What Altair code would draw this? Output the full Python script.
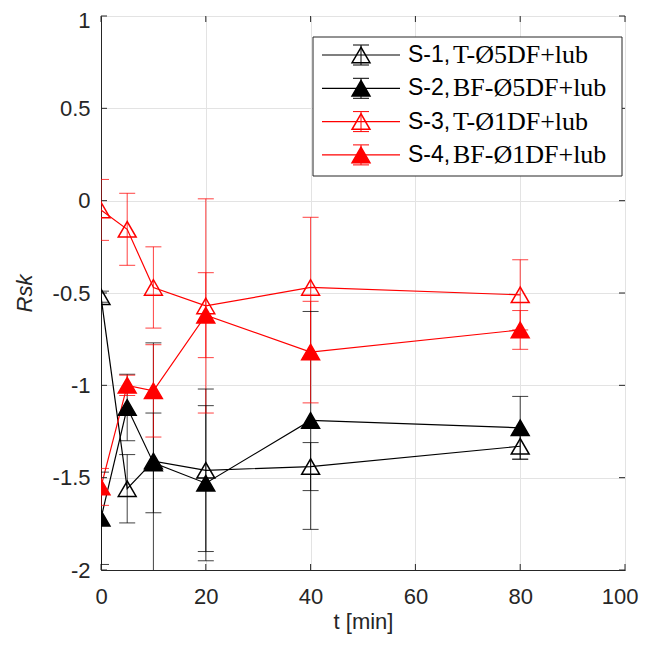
import altair as alt
import pandas as pd

# ---------------- data ----------------
t = [0, 5, 10, 20, 40, 80]
series = ["S-1", "S-2", "S-3", "S-4"]
labels_a = ["S-1,", "S-2,", "S-3,", "S-4,"]
labels_b = ["T-Ø5DF+lub", "BF-Ø5DF+lub", "T-Ø1DF+lub", "BF-Ø1DF+lub"]

s1_mean = [-0.52, -1.56, -1.41, -1.46, -1.44, -1.33]
s1_err = [0.03, 0.185, 0.64, 0.44, 0.13, 0.07]
s2_mean = [-1.72, -1.12, -1.42, -1.53, -1.19, -1.23]
s2_err = [0.25, 0.18, 0.27, 0.42, 0.59, 0.17]
s3_mean = [-0.05, -0.155, -0.47, -0.57, -0.47, -0.51]
s3_err = [0.165, 0.195, 0.22, 0.58, 0.38, 0.19]
s4_mean = [-1.55, -1.0, -1.03, -0.62, -0.82, -0.70]
s4_err = [0.10, 0.055, 0.25, 0.23, 0.275, 0.105]

x_ticks = [0, 20, 40, 60, 80, 100]
y_ticks = [-2, -1.5, -1, -0.5, 0, 0.5, 1]

# ---------------- styles ----------------
colors = ["#000000", "#000000", "#ff0000", "#ff0000"]
fills = ["transparent", "#000000", "transparent", "#ff0000"]
W, H = 524, 554
AXC = "#262626"
FONT = "Liberation Sans"
SERIF = "Liberation Serif"

means = [s1_mean, s2_mean, s3_mean, s4_mean]
errs = [s1_err, s2_err, s3_err, s4_err]
rows = []
for name, m, e in zip(series, means, errs):
    for ti, mi, ei in zip(t, m, e):
        rows.append({"series": name, "t": ti, "v": mi, "lo": mi - ei, "hi": mi + ei})
df = pd.DataFrame(rows)

col_scale = alt.Scale(domain=series, range=colors)
fill_scale = alt.Scale(domain=series, range=fills)

xs = alt.Scale(domain=[0, 100], nice=False, zero=False)
ys = alt.Scale(domain=[-2, 1], nice=False, zero=False)

base = alt.Chart(df)

x_enc = alt.X(
    "t:Q", scale=xs,
    axis=alt.Axis(values=x_ticks, title="t [min]", labelFlush=False, labelOverlap=False,
                  labelPadding=16, titlePadding=4, grid=True, ticks=False,
                  labelAlign={"condition": {"test": "datum.value == 100", "value": "right"}, "value": "center"},
                  labelOffset={"condition": {"test": "datum.value == 100", "value": 13}, "value": 0}),
)
y_enc = alt.Y(
    "v:Q", scale=ys,
    axis=alt.Axis(values=y_ticks, title="Rsk", labelFlush=False, labelOverlap=False,
                  labelExpr="datum.value + ''", labelPadding=11, titlePadding=16,
                  titleFontStyle="italic", grid=True, ticks=False,
                  labelOffset={"condition": {"test": "datum.value == 1", "value": 4}, "value": 0}),
)

err_rule = base.mark_rule(clip=True, strokeWidth=1, opacity=0.75).encode(
    x=alt.X("t:Q", scale=xs), y=alt.Y("lo:Q", scale=ys), y2="hi:Q",
    color=alt.Color("series:N", scale=col_scale, legend=None),
)
cap_lo = base.mark_tick(clip=True, orient="horizontal", size=16, thickness=1, opacity=0.75).encode(
    x=alt.X("t:Q", scale=xs), y=alt.Y("lo:Q", scale=ys),
    color=alt.Color("series:N", scale=col_scale, legend=None),
)
cap_hi = base.mark_tick(clip=True, orient="horizontal", size=16, thickness=1, opacity=0.75).encode(
    x=alt.X("t:Q", scale=xs), y=alt.Y("hi:Q", scale=ys),
    color=alt.Color("series:N", scale=col_scale, legend=None),
)
lines = base.mark_line(strokeWidth=1.2, clip=True).encode(
    x=x_enc, y=y_enc,
    color=alt.Color("series:N", scale=col_scale, legend=None),
    detail="series:N",
)
markers = base.mark_point(shape="triangle-up", size=320, strokeWidth=1.5, opacity=1, clip=True).encode(
    x=alt.X("t:Q", scale=xs), y=alt.Y("v:Q", scale=ys),
    stroke=alt.Stroke("series:N", scale=col_scale, legend=None),
    fill=alt.Fill("series:N", scale=fill_scale, legend=None),
)

# inward ticks (MATLAB box style)
TL = 6
xt = alt.Chart(pd.DataFrame({"xv": x_ticks}))
yt = alt.Chart(pd.DataFrame({"yv": y_ticks}))
xtick_b = xt.mark_rule(color=AXC, strokeWidth=1).encode(
    x=alt.X("xv:Q", scale=xs), y=alt.value(H), y2=alt.value(H - TL))
xtick_t = xt.mark_rule(color=AXC, strokeWidth=1).encode(
    x=alt.X("xv:Q", scale=xs), y=alt.value(0), y2=alt.value(TL))
ytick_l = yt.mark_rule(color=AXC, strokeWidth=1).encode(
    y=alt.Y("yv:Q", scale=ys), x=alt.value(0), x2=alt.value(TL))
ytick_r = yt.mark_rule(color=AXC, strokeWidth=1).encode(
    y=alt.Y("yv:Q", scale=ys), x=alt.value(W - TL), x2=alt.value(W))

main = alt.layer(lines, xtick_b, xtick_t, ytick_l, ytick_r,
                 err_rule, cap_lo, cap_hi, markers)

# ---------------- legend (pixel positions) ----------------
LX0, LX1, LY0, LY1 = 212, 521, 21, 160
ROW0, ROWH = 39, 33.3
leg_rows = []
for i, name in enumerate(series):
    y = ROW0 + i * ROWH
    leg_rows.append({
        "a": labels_a[i], "b": labels_b[i], "col": colors[i], "fillc": fills[i],
        "y": y, "yt": y - 10, "yb": y + 10,
        "lx1": 221, "lx2": 299, "mx": 260, "cx1": 252, "cx2": 268,
        "ta": 307, "tb": 352,
    })
ldf = pd.DataFrame(leg_rows)
lb = alt.Chart(ldf)
box = alt.Chart(pd.DataFrame({"k": [0]})).mark_rect(fill="white", stroke=AXC, strokeWidth=1).encode(
    x=alt.value(LX0), x2=alt.value(LX1), y=alt.value(LY0), y2=alt.value(LY1))
PX = lambda f: alt.X(f, scale=None, axis=None)
PY = lambda f: alt.Y(f, scale=None, axis=None)
l_line = lb.mark_rule(strokeWidth=1.2).encode(
    x=PX("lx1:Q"), x2="lx2:Q", y=PY("y:Q"), color=alt.Color("col:N", scale=None))
l_err = lb.mark_rule(strokeWidth=1).encode(
    x=PX("mx:Q"), y=PY("yt:Q"), y2="yb:Q", color=alt.Color("col:N", scale=None))
l_cap1 = lb.mark_rule(strokeWidth=1).encode(
    x=PX("cx1:Q"), x2="cx2:Q", y=PY("yt:Q"), color=alt.Color("col:N", scale=None))
l_cap2 = lb.mark_rule(strokeWidth=1).encode(
    x=PX("cx1:Q"), x2="cx2:Q", y=PY("yb:Q"), color=alt.Color("col:N", scale=None))
l_mk = lb.mark_point(shape="triangle-up", size=320, strokeWidth=1.5, opacity=1).encode(
    x=PX("mx:Q"), y=PY("y:Q"),
    stroke=alt.Stroke("col:N", scale=None), fill=alt.Fill("fillc:N", scale=None))
l_ta = lb.mark_text(align="left", baseline="middle", font=FONT, fontSize=23, color="#000000").encode(
    x=PX("ta:Q"), y=PY("y:Q"), text="a:N")
l_tb = lb.mark_text(align="left", baseline="middle", font=SERIF, fontSize=26, color="#000000").encode(
    x=PX("tb:Q"), y=PY("y:Q"), text="b:N")
legend = alt.layer(box, l_line, l_err, l_cap1, l_cap2, l_mk, l_ta, l_tb)

chart = alt.layer(main, legend).resolve_scale(
    x="independent", y="independent", color="independent",
    fill="independent", stroke="independent",
).properties(
    width=W, height=H,
    autosize=alt.AutoSizeParams(type="none"),
    padding={"left": 93, "top": 8, "right": 14, "bottom": 66},
    background="white",
).configure_view(stroke=AXC, strokeWidth=1).configure_axis(
    labelFont=FONT, labelFontSize=22, labelColor=AXC,
    titleFont=FONT, titleFontSize=22, titleColor=AXC, titleFontWeight="normal",
    domainColor=AXC, domainWidth=1, gridColor="#e3e3e3", gridWidth=1,
)

chart.save("out.html", embed_options={"renderer": "svg", "actions": False})
